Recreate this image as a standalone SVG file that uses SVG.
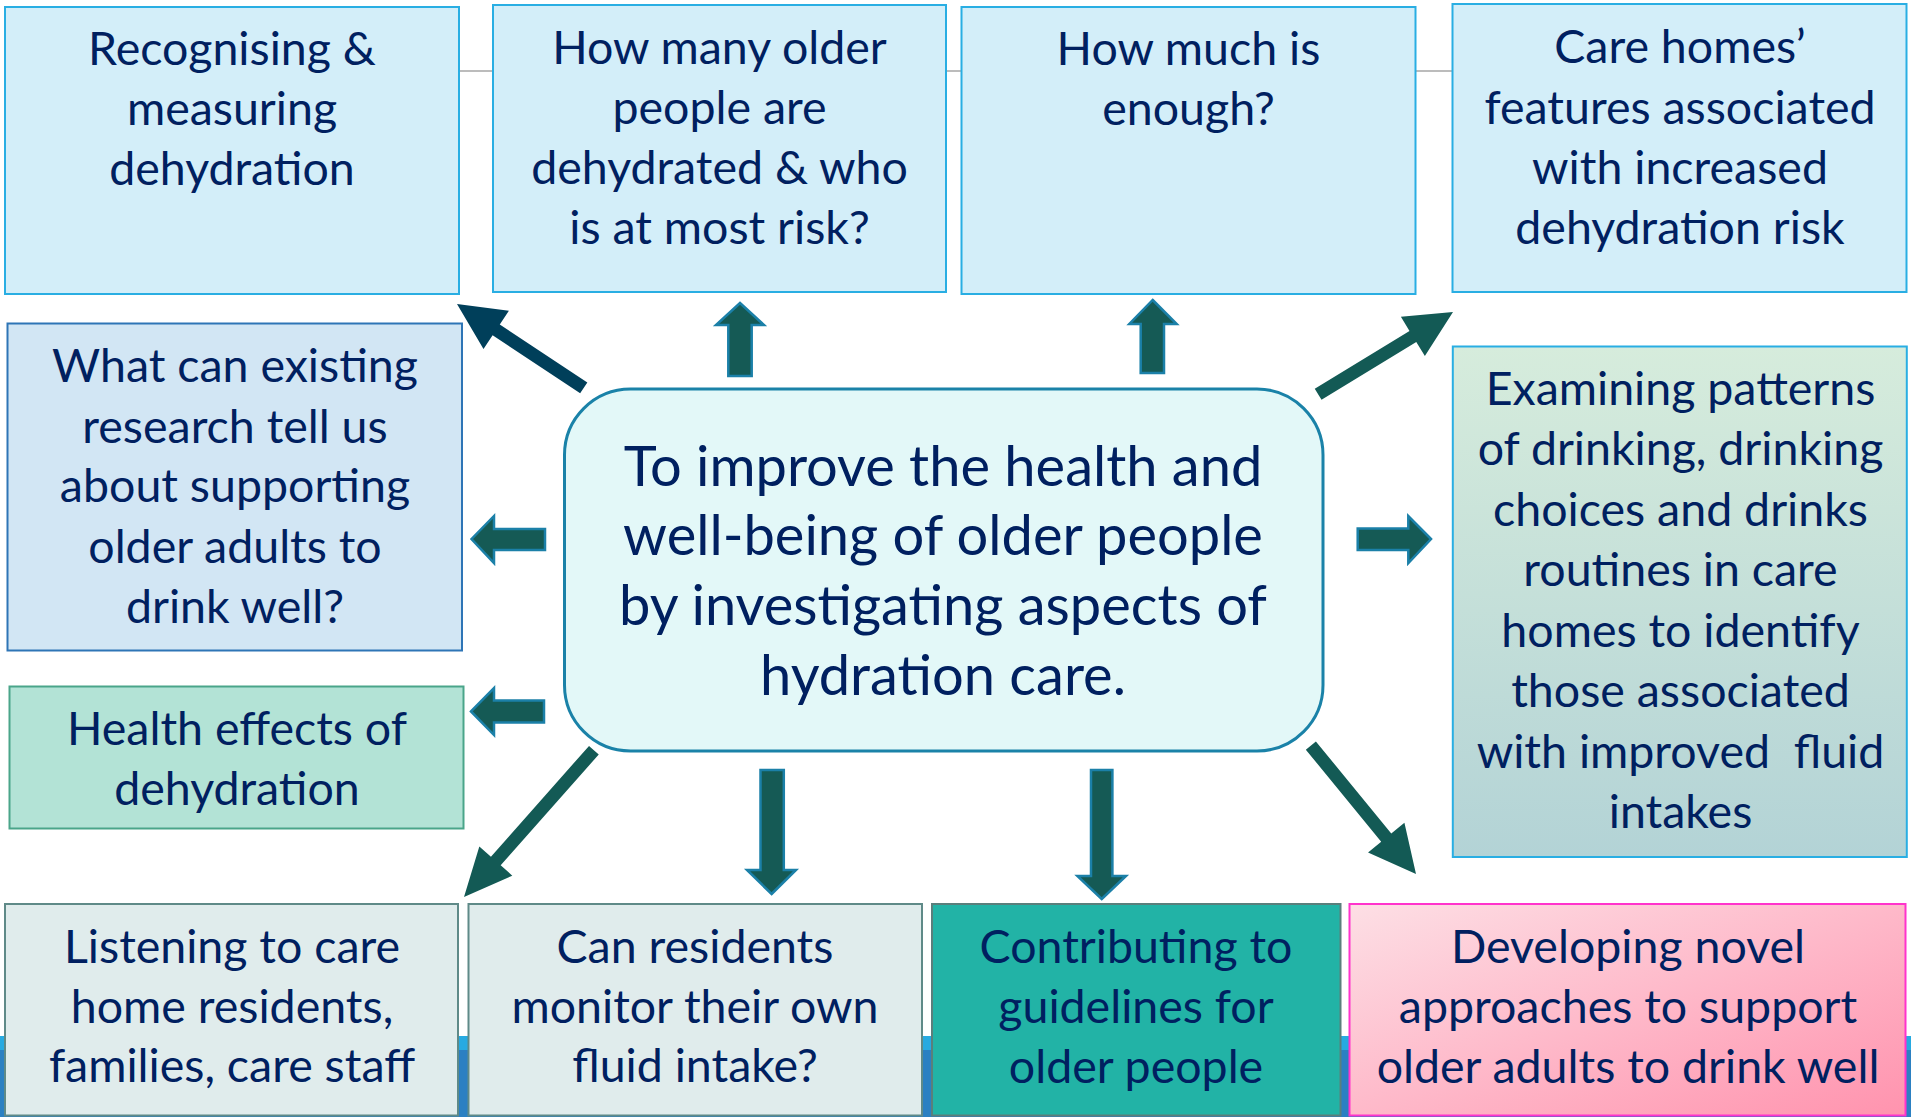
<svg xmlns="http://www.w3.org/2000/svg" width="1911" height="1117" viewBox="0 0 1911 1117">
  <style>
    .t { font-family: Lato, "Open Sans", "Liberation Sans", sans-serif; font-size: 46.5px; fill: #002060; text-anchor: middle; }
    .tc { font-size: 56px; }
    .sky { fill: #d3eef9; stroke: #29aee3; stroke-width: 2; }
    .pale { fill: #e0ecec; stroke: #5f8a88; stroke-width: 2; }
    .blk { fill: #155a55; stroke: #1b80a8; stroke-width: 2.5; stroke-linejoin: miter; }
    .diag { fill: #135a55; }
    .diag-dark { fill: #003f5a; }
  </style>
  <defs>
    <linearGradient id="gMint" x1="0" y1="0" x2="0" y2="1">
      <stop offset="0" stop-color="#d6ecdc"/>
      <stop offset="1" stop-color="#b3d3d6"/>
    </linearGradient>
    <linearGradient id="gPink" x1="0" y1="0" x2="1" y2="1">
      <stop offset="0" stop-color="#fddfe5"/>
      <stop offset="1" stop-color="#ff93ae"/>
    </linearGradient>
  </defs>

  <!-- background: bottom band and top rule -->
  <rect x="0" y="1036" width="1911" height="14" fill="#27aae1"/>
  <rect x="0" y="1050" width="1911" height="67" fill="#2b80c2"/>
  <line x1="459" y1="71" x2="1452" y2="71" stroke="#a6a6a6" stroke-width="1.5"/>

  <!-- connectors -->
  <g id="connectors">
    <!-- diagonal arrows: polygon points toward +x with the tip at the origin -->
    <g transform="translate(457,304) rotate(213.5)"><polygon class="diag-dark" points="0,0 -47,-23 -47,-6.5 -152,-6.5 -152,6.5 -47,6.5 -47,23"/></g>
    <g transform="translate(1453,312) rotate(-31.4)"><polygon class="diag" points="0,0 -47,-23 -47,-6.5 -158,-6.5 -158,6.5 -47,6.5 -47,23"/></g>
    <g transform="translate(1416,874) rotate(50.7)"><polygon class="diag" points="0,0 -47,-23.5 -47,-6.5 -166,-6.5 -166,6.5 -47,6.5 -47,23.5"/></g>
    <g transform="translate(464,897) rotate(131.5)"><polygon class="diag" points="0,0 -48,-22 -48,-6.5 -196,-6.5 -196,6.5 -48,6.5 -48,22"/></g>
    <!-- straight block arrows -->
    <polygon class="blk" points="740,303 764,325 751.7,325 751.7,376 728.3,376 728.3,325 716,325"/>
    <polygon class="blk" points="1152.7,300 1176.7,324 1164,324 1164,373 1140.7,373 1140.7,324 1129.3,324"/>
    <polygon class="blk" points="471.5,539 494,516 494,529 545,529 545,550 494,550 494,563"/>
    <polygon class="blk" points="471,711.4 494,688 494,700.5 544,700.5 544,722.5 494,722.5 494,735"/>
    <polygon class="blk" points="1431,539 1408.3,516 1408.3,528.6 1357.7,528.6 1357.7,550 1408.3,550 1408.3,563"/>
    <polygon class="blk" points="771.6,894 796,870 783.8,870 783.8,770 760.5,770 760.5,870 747,870"/>
    <polygon class="blk" points="1101.7,899 1126,876 1112.4,876 1112.4,770 1091,770 1091,876 1077.4,876"/>
  </g>

  <!-- top row -->
  <g id="n-recognising">
    <rect class="sky" x="5" y="7" width="454" height="287"/>
    <text class="t" x="232" y="65">Recognising &amp;</text>
    <text class="t" x="232" y="125">measuring</text>
    <text class="t" x="232" y="185">dehydration</text>
  </g>
  <g id="n-how-many">
    <rect class="sky" x="493" y="5" width="453" height="287"/>
    <text class="t" x="719.5" y="64">How many older</text>
    <text class="t" x="719.5" y="124">people are</text>
    <text class="t" x="719.5" y="184">dehydrated &amp; who</text>
    <text class="t" x="719.5" y="244">is at most risk?</text>
  </g>
  <g id="n-how-much">
    <rect class="sky" x="961.5" y="7" width="454" height="287"/>
    <text class="t" x="1188.5" y="65">How much is</text>
    <text class="t" x="1188.5" y="125">enough?</text>
  </g>
  <g id="n-care-homes">
    <rect class="sky" x="1452.5" y="4" width="454" height="288"/>
    <text class="t" x="1680" y="63">Care homes’</text>
    <text class="t" x="1680" y="123.5">features associated</text>
    <text class="t" x="1680" y="183.5">with increased</text>
    <text class="t" x="1680" y="243.5">dehydration risk</text>
  </g>

  <!-- left column -->
  <g id="n-existing-research">
    <rect x="7.5" y="323.5" width="454.5" height="327" fill="#d2e6f4" stroke="#2e75b6" stroke-width="2"/>
    <text class="t" x="235" y="382">What can existing</text>
    <text class="t" x="235" y="442.5">research tell us</text>
    <text class="t" x="235" y="502">about supporting</text>
    <text class="t" x="235" y="562.5">older adults to</text>
    <text class="t" x="235" y="623">drink well?</text>
  </g>
  <g id="n-health-effects">
    <rect x="9.5" y="686.5" width="454" height="142" fill="#b3e3d6" stroke="#4aa58a" stroke-width="2"/>
    <text class="t" x="237" y="744.5">Health effects of</text>
    <text class="t" x="237" y="805">dehydration</text>
  </g>

  <!-- centre -->
  <g id="n-aim">
    <rect x="564.5" y="389" width="758.5" height="362" rx="66" ry="66" fill="#e3f8f8" stroke="#1a82a8" stroke-width="3"/>
    <text class="t tc" x="943" y="486">To improve the health and</text>
    <text class="t tc" x="943" y="555">well-being of older people</text>
    <text class="t tc" x="943" y="624.5">by investigating aspects of</text>
    <text class="t tc" x="943" y="695">hydration care.</text>
  </g>

  <!-- right column -->
  <g id="n-patterns">
    <rect x="1452.8" y="346.5" width="454" height="510.5" fill="url(#gMint)" stroke="#29aee3" stroke-width="2"/>
    <text class="t" x="1680.5" y="404.5">Examining patterns</text>
    <text class="t" x="1680.5" y="465">of drinking, drinking</text>
    <text class="t" x="1680.5" y="525.5">choices and drinks</text>
    <text class="t" x="1680.5" y="586">routines in care</text>
    <text class="t" x="1680.5" y="646.5">homes to identify</text>
    <text class="t" x="1680.5" y="707">those associated</text>
    <text class="t" x="1680.5" y="767.5" xml:space="preserve">with improved  fluid</text>
    <text class="t" x="1680.5" y="828">intakes</text>
  </g>

  <!-- bottom row -->
  <g id="n-listening">
    <rect class="pale" x="5" y="904" width="453" height="211.5"/>
    <text class="t" x="232" y="962.5">Listening to care</text>
    <text class="t" x="232" y="1022.5">home residents,</text>
    <text class="t" x="232" y="1082">families, care staff</text>
  </g>
  <g id="n-self-monitor">
    <rect class="pale" x="468.5" y="904" width="453.5" height="211.5"/>
    <text class="t" x="695" y="962.5">Can residents</text>
    <text class="t" x="695" y="1022.5">monitor their own</text>
    <text class="t" x="695" y="1082">fluid intake?</text>
  </g>
  <g id="n-guidelines">
    <rect x="932" y="904" width="408.5" height="211.5" fill="#22b3a6" stroke="#5a7f7c" stroke-width="2"/>
    <text class="t" x="1136" y="962.5">Contributing to</text>
    <text class="t" x="1136" y="1022.5">guidelines for</text>
    <text class="t" x="1136" y="1082.5">older people</text>
  </g>
  <g id="n-novel">
    <rect x="1349.5" y="904" width="556" height="211.5" fill="url(#gPink)" stroke="#ff33cc" stroke-width="2"/>
    <text class="t" x="1628" y="962.5">Developing novel</text>
    <text class="t" x="1628" y="1022.5">approaches to support</text>
    <text class="t" x="1628" y="1082.5">older adults to drink well</text>
  </g>
</svg>
